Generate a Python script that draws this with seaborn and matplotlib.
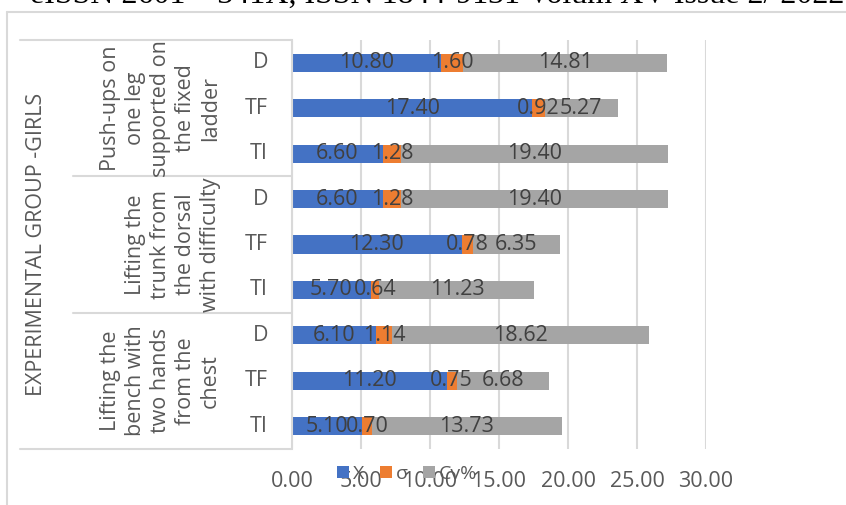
import matplotlib
matplotlib.use("Agg")
import matplotlib.pyplot as plt
from matplotlib.patches import Patch
from matplotlib.lines import Line2D
import seaborn as sns
import pandas as pd

# ---- data (top row first) ----
groups = [
    "Push-ups on\none leg\nsupported on\nthe fixed\nladder",
    "Lifting the\ntrunk from\nthe dorsal\nwith difficulty",
    "Lifting the\nbench with\ntwo hands\nfrom the\nchest",
]
tests = ["D", "TF", "TI"]
mean_x = [10.80, 17.40, 6.60, 6.60, 12.30, 5.70, 6.10, 11.20, 5.10]
sigma = [1.60, 0.92, 1.28, 1.28, 0.78, 0.64, 1.14, 0.75, 0.70]
cv_pct = [14.81, 5.27, 19.40, 19.40, 6.35, 11.23, 18.62, 6.68, 13.73]
series_names = ["X", "σ", "Cv%"]
series_colors = ["#4472C4", "#ED7D31", "#A5A5A5"]
x_ticks = [0, 5, 10, 15, 20, 25, 30]
side_title = "EXPERIMENTAL GROUP -GIRLS"
header = "eISSN 2601 – 341X, ISSN 1844-9131 Volum XV Issue 2/ 2022"

rows = [f"{g}|{t}" for g in range(len(groups)) for t in tests]
df = pd.DataFrame({"row": rows, "X": mean_x, "sigma": sigma, "cv": cv_pct})
df["c1"] = df["X"]
df["c2"] = df["X"] + df["sigma"]
df["c3"] = df["c2"] + df["cv"]

W, H = 846, 505
FS = 15.5
sns.set_theme(style="white")
plt.rcParams["font.family"] = ["Open Sans", "DejaVu Sans"]

fig = plt.figure(figsize=(W / 100, H / 100), dpi=100)
ax = fig.add_axes([292 / W, 1 - 449 / H, 414 / W, 409 / H])

# stacked bars: draw cumulative totals back to front
for col, color in zip(["c3", "c2", "c1"], series_colors[::-1]):
    sns.barplot(data=df, x=col, y="row", orient="h", color=color,
                width=0.4, saturation=1, ax=ax, linewidth=0, order=rows)

# value labels centred in each segment
lab_col = "#404040"
for i, r in df.iterrows():
    starts = [0, r["c1"], r["c2"]]
    vals = [r["X"], r["sigma"], r["cv"]]
    for s, v in zip(starts, vals):
        ax.text(s + v / 2, i, f"{v:.2f}", ha="center", va="center",
                fontsize=FS, color=lab_col)

ax.set_xlim(0, 30)
ax.set_ylim(len(rows) - 0.5, -0.5)
ax.set_xticks(x_ticks)
ax.set_xticklabels([f"{t:.2f}" for t in x_ticks], fontsize=FS, color="#595959")
ax.set_yticks([])
ax.set_xlabel("")
ax.set_ylabel("")
ax.tick_params(axis="x", length=0, pad=16)
ax.grid(axis="x", color="#D9D9D9", linewidth=1.5)
ax.set_axisbelow(True)
for s in ["top", "right", "bottom"]:
    ax.spines[s].set_visible(False)
ax.spines["left"].set_color("#D9D9D9")
ax.spines["left"].set_linewidth(1.5)

# multi-level category labels drawn in pixel positions of the figure
def fx(px):
    return px / W

def fy(py):
    return 1 - py / H

line_kw = dict(color="#D9D9D9", linewidth=1.5, transform=fig.transFigure)
top_px, bot_px = 40, 449
slot = (bot_px - top_px) / len(rows)
fig.add_artist(Line2D([fx(20), fx(291)], [fy(top_px), fy(top_px)], **line_kw))
fig.add_artist(Line2D([fx(20), fx(291)], [fy(bot_px), fy(bot_px)], **line_kw))
for k in (1, 2):
    yy = top_px + 3 * k * slot
    fig.add_artist(Line2D([fx(73), fx(291)], [fy(yy), fy(yy)], **line_kw))

tick_col = "#595959"
for i, r in enumerate(rows):
    yc = top_px + (i + 0.5) * slot
    fig.text(fx(268), fy(yc), tests[i % 3], ha="right", va="center",
             fontsize=FS, color=tick_col)

for g, name in enumerate(groups):
    yc = top_px + (3 * g + 1.5) * slot
    fig.text(fx(221), fy(yc), name, ha="right", va="center", rotation=90,
             multialignment="center", fontsize=FS, color=tick_col,
             linespacing=1.25)

fig.text(fx(37), fy((top_px + bot_px) / 2), side_title, ha="center",
         va="center", rotation=90, fontsize=FS, color=tick_col)

# legend
handles = [Patch(facecolor=c, edgecolor="none") for c in series_colors]
fig.legend(handles, series_names, loc="center left",
           bbox_to_anchor=(fx(337), fy(474)), ncol=3, frameon=False,
           fontsize=14, handlelength=0.62, handleheight=0.62,
           handletextpad=0.2, columnspacing=0.8, labelcolor=tick_col,
           borderpad=0, borderaxespad=0)

# outer chart frame and page header
fig.add_artist(Line2D([fx(7), fx(7)], [fy(12), 0], **line_kw))
fig.add_artist(Line2D([fx(7), 1], [fy(12), fy(12)], **line_kw))
fig.text(fx(30), fy(3), header, ha="left", va="baseline",
         fontsize=23, family="Liberation Serif", color="black")

fig.savefig("out.png", dpi=100)
